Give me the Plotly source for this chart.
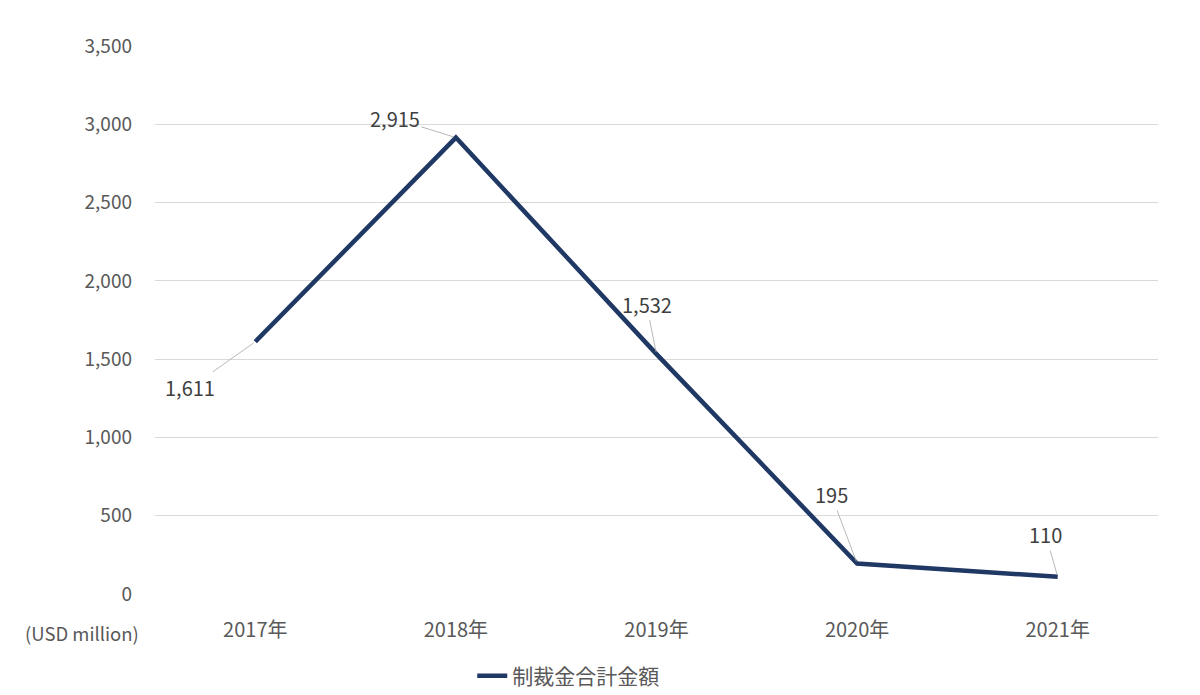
import plotly.graph_objects as go

years = ["2017年", "2018年", "2019年", "2020年", "2021年"]
amounts = [1611, 2915, 1532, 195, 110]
labels = ["1,611", "2,915", "1,532", "195", "110"]
# label offsets from the point, in pixels
offsets = [(-65, 46), (-61, -19), (-10, -50), (-26, -69), (-12, -42)]

FONT = "Noto Sans CJK JP"
GREY = "#595959"

fig = go.Figure()
fig.add_trace(go.Scatter(
    x=years, y=amounts, mode="lines", name="制裁金合計金額",
    line=dict(color="#1f3864", width=4.5),
))

for x, y, t, (ax, ay) in zip(years, amounts, labels, offsets):
    fig.add_annotation(
        x=x, y=y, text=t, showarrow=True, arrowhead=0, arrowwidth=0.8,
        arrowcolor="#a6a6a6", ax=ax, ay=ay, standoff=2,
        font=dict(family=FONT, size=20, color="#404040"),
    )

fig.add_annotation(
    xref="paper", yref="paper", x=-0.073, y=-0.071, xanchor="center", yanchor="middle",
    text="(USD million)", showarrow=False,
    font=dict(family=FONT, size=18.5, color=GREY),
)

# page body has an 8px margin, so the margins are shifted by that much
fig.update_layout(
    width=1200, height=695,
    margin=dict(l=147, r=50, t=38, b=109, autoexpand=False),
    plot_bgcolor="white", paper_bgcolor="white",
    font=dict(family=FONT, size=19, color=GREY),
    showlegend=True,
    legend=dict(orientation="h", x=0.412, y=-0.150, xanchor="center", yanchor="middle",
                font=dict(family=FONT, size=21, color=GREY)),
    xaxis=dict(range=[-0.5, 4.5], showgrid=False, zeroline=False, showline=False,
               ticks="", ticklabelstandoff=22, tickfont=dict(size=20)),
    yaxis=dict(range=[0, 3500], dtick=500, tickformat=",", showgrid=True,
               gridcolor="#d9d9d9", gridwidth=1, zeroline=False, showline=False,
               ticks="", ticklabelstandoff=22),
)

fig.write_html("out.html")
